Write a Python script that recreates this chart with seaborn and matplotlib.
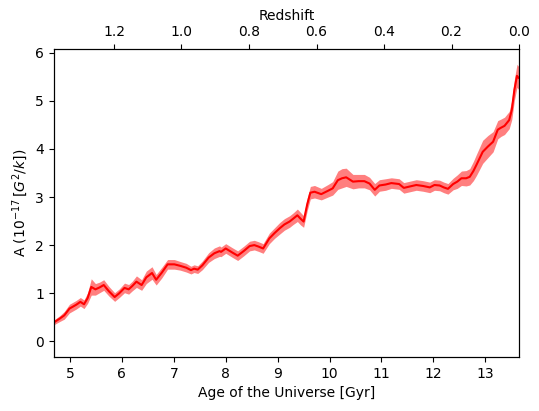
import numpy as np
import pandas as pd
from matplotlib import pyplot as plt
import seaborn as sns

age = [4.70, 4.80, 4.89, 4.99, 5.12, 5.20, 5.27, 5.34, 5.41, 5.49, 5.57, 5.65, 5.75, 5.86,
       5.95, 6.05, 6.13, 6.20, 6.28, 6.38, 6.47, 6.58, 6.66, 6.77, 6.88, 7.01, 7.12, 7.24,
       7.33, 7.39, 7.46, 7.55, 7.67, 7.78, 7.88, 7.91, 8.00, 8.12, 8.23, 8.35, 8.46, 8.55,
       8.63, 8.72, 8.84, 8.94, 9.04, 9.13, 9.23, 9.30, 9.38, 9.44, 9.50, 9.57, 9.63, 9.71,
       9.84, 9.97, 10.06, 10.16, 10.24, 10.32, 10.45, 10.56, 10.67, 10.77, 10.87, 10.96,
       11.08, 11.19, 11.34, 11.43, 11.55, 11.67, 11.80, 11.93, 12.02, 12.12, 12.20, 12.28,
       12.38, 12.46, 12.54, 12.63, 12.70, 12.77, 12.83, 12.95, 13.05, 13.15, 13.24, 13.30,
       13.37, 13.46, 13.51, 13.56, 13.61, 13.64]

amp = [0.40, 0.47, 0.54, 0.68, 0.76, 0.82, 0.77, 0.90, 1.13, 1.08, 1.12, 1.17, 1.04, 0.92,
       1.00, 1.11, 1.08, 1.15, 1.24, 1.17, 1.33, 1.42, 1.28, 1.43, 1.60, 1.60, 1.57, 1.53,
       1.48, 1.51, 1.49, 1.58, 1.74, 1.83, 1.875, 1.86, 1.93, 1.85, 1.78, 1.88, 1.98, 2.00,
       1.97, 1.93, 2.14, 2.25, 2.35, 2.43, 2.49, 2.55, 2.62, 2.55, 2.49, 2.85, 3.09, 3.11,
       3.06, 3.13, 3.18, 3.35, 3.39, 3.41, 3.32, 3.33, 3.33, 3.28, 3.15, 3.24,
       3.26, 3.29, 3.27, 3.19, 3.22, 3.25, 3.23, 3.20, 3.25, 3.24, 3.20, 3.17,
       3.27, 3.32, 3.39, 3.39, 3.42, 3.54, 3.67, 3.94, 4.05, 4.15, 4.40, 4.44,
       4.48, 4.60, 4.81, 5.23, 5.52, 5.48]

err = [0.05, 0.06, 0.08, 0.09, 0.09, 0.09, 0.09, 0.11, 0.17, 0.12, 0.11, 0.11, 0.10, 0.09,
       0.09, 0.10, 0.10, 0.10, 0.12, 0.11, 0.13, 0.13, 0.11, 0.11, 0.10, 0.10, 0.09, 0.09,
       0.08, 0.08, 0.08, 0.09, 0.10, 0.11, 0.11, 0.10, 0.10, 0.10, 0.10, 0.10, 0.10, 0.10,
       0.10, 0.10, 0.11, 0.11, 0.12, 0.12, 0.12, 0.12, 0.13, 0.13, 0.12, 0.13, 0.13, 0.13,
       0.12, 0.13, 0.14, 0.19, 0.20, 0.19, 0.15, 0.14, 0.14, 0.13, 0.13, 0.12,
       0.12, 0.11, 0.11, 0.11, 0.11, 0.11, 0.11, 0.11, 0.11, 0.11, 0.11, 0.11,
       0.12, 0.14, 0.15, 0.16, 0.17, 0.20, 0.22, 0.24, 0.23, 0.21, 0.19, 0.18,
       0.18, 0.18, 0.20, 0.22, 0.24, 0.24]

z_ticks = [1.2, 1.0, 0.8, 0.6, 0.4, 0.2, 0.0]

df = pd.DataFrame({"age": age, "amp": amp, "err": err})

fig = plt.figure(figsize=(5.39, 4.11), dpi=100)
ax = fig.add_axes([0.1, 0.131, 0.863, 0.75])

ax.fill_between(df["age"], df["amp"] - df["err"], df["amp"] + df["err"],
                color="red", alpha=0.5, linewidth=0)
sns.lineplot(data=df, x="age", y="amp", color="red", linewidth=1.5, ax=ax)

ax.set_xlim(4.69, 13.65)
ax.set_ylim(-0.33, 6.08)
ax.set_xlabel("Age of the Universe [Gyr]")
ax.set_ylabel(r"A ($10^{-17}\,[G^2/k]$)")

top = ax.twiny()
top.set_xlim(1.378, 0.0)
top.set_xticks(z_ticks)
top.set_xticklabels([f"{z:.1f}" for z in z_ticks])
top.set_xlabel("Redshift")

plt.savefig("out.png", dpi=100)
